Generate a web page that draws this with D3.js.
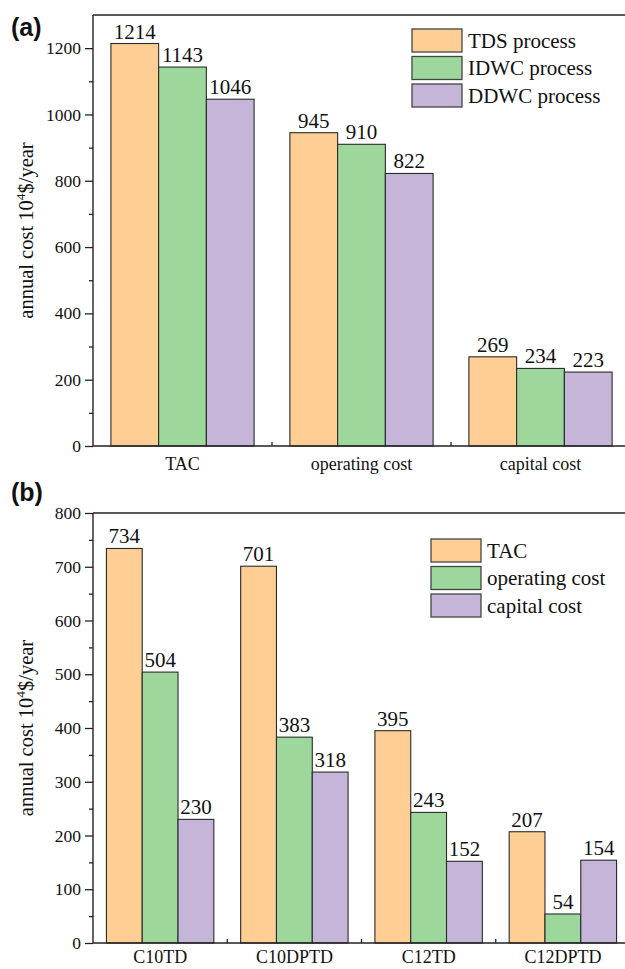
<!DOCTYPE html>
<html><head><meta charset="utf-8">
<script src="https://cdn.jsdelivr.net/npm/d3@7/dist/d3.min.js"></script>
<style>
html,body{margin:0;padding:0;background:#fff;overflow:hidden;}
svg{display:block;}
</style></head>
<body>
<script>
// ---- data ----
const catsA = ["TAC", "operating cost", "capital cost"];
const seriesA = ["TDS process", "IDWC process", "DDWC process"];
const tdsVals = [1214, 945, 269];
const idwcVals = [1143, 910, 234];
const ddwcVals = [1046, 822, 223];

const catsB = ["C10TD", "C10DPTD", "C12TD", "C12DPTD"];
const seriesB = ["TAC", "operating cost", "capital cost"];
const tacVals = [734, 701, 395, 207];
const opVals = [504, 383, 243, 54];
const capVals = [230, 318, 152, 154];

const ticksA = [0, 200, 400, 600, 800, 1000, 1200];
const ticksB = [0, 100, 200, 300, 400, 500, 600, 700, 800];

const colors = ["#FECE94", "#9DD79C", "#C5B5D8"];

const W = 625, H = 969;
const SERIF = "'Liberation Serif','Times New Roman',serif";
const SANS = "'Liberation Sans',Arial,sans-serif";
const svg = d3.select("body").append("svg").attr("width", W).attr("height", H);

function panel(opts) {
  const {cats, series, vals, yMax, ticks, minor, top, bottom, label, labelY, legendX, legendY, xLabelOff} = opts;
  const left = 93, right = 630;
  const g = svg.append("g");
  const x0 = d3.scaleBand().domain(cats).range([left, right]).paddingInner(0.2).paddingOuter(0.1);
  const x1 = d3.scaleBand().domain(series).range([0, x0.bandwidth()]);
  const y = d3.scaleLinear().domain([0, yMax]).range([bottom, top]);
  const color = d3.scaleOrdinal().domain(series).range(colors);

  // bars
  series.forEach((s, si) => {
    const gg = g.append("g");
    const data = cats.map((c, ci) => ({c, v: vals[si][ci]}));
    gg.selectAll("rect").data(data).join("rect")
      .attr("x", d => x0(d.c) + x1(s))
      .attr("y", d => y(d.v))
      .attr("width", x1.bandwidth())
      .attr("height", d => y(0) - y(d.v))
      .attr("fill", color(s))
      .attr("stroke", "#2a2a2a").attr("stroke-width", 1.1);
    gg.selectAll("text").data(data).join("text")
      .attr("x", d => x0(d.c) + x1(s) + x1.bandwidth() / 2)
      .attr("y", d => y(d.v) - 5)
      .attr("text-anchor", "middle")
      .style("font-family", SERIF).style("font-size", "21px").style("fill", "#111")
      .text(d => d.v);
  });

  // y axis
  const yAxis = d3.axisLeft(y).tickValues(ticks).tickSize(8).tickPadding(4).tickFormat(d3.format("d"));
  const ya = g.append("g").attr("transform", `translate(${left},0)`).call(yAxis);
  ya.select(".domain").remove();
  ya.selectAll("line").attr("stroke", "#222").attr("stroke-width", 1.3);
  ya.selectAll("text").style("font-size", "17.5px").style("font-family", SERIF).style("fill", "#111");
  const yMinor = d3.axisLeft(y).tickValues(minor).tickSize(4).tickFormat("");
  const ym = g.append("g").attr("transform", `translate(${left},0)`).call(yMinor);
  ym.select(".domain").remove();
  ym.selectAll("line").attr("stroke", "#222").attr("stroke-width", 1.3);

  // x axis
  const xAxis = d3.axisBottom(x0).tickSize(0).tickPadding(0);
  const xa = g.append("g").attr("transform", `translate(0,${bottom})`).call(xAxis);
  xa.select(".domain").remove();
  xa.selectAll("text").style("font-size", "18px").style("font-family", SERIF).style("fill", "#111")
    .attr("dy", 0).attr("y", xLabelOff);
  // inward ticks between groups
  const seps = cats.slice(1).map(c => x0(c) - x0.step() * x0.paddingInner() / 2);
  g.append("g").selectAll("line").data(seps).join("line")
    .attr("x1", d => d).attr("x2", d => d).attr("y1", bottom).attr("y2", bottom - 4)
    .attr("stroke", "#222").attr("stroke-width", 1.3);

  // frame lines
  g.append("line").attr("x1", left).attr("x2", W + 5).attr("y1", bottom).attr("y2", bottom).attr("stroke", "#222").attr("stroke-width", 1.4);
  g.append("line").attr("x1", left).attr("x2", W + 5).attr("y1", top).attr("y2", top).attr("stroke", "#222").attr("stroke-width", 1.4);
  g.append("line").attr("x1", left).attr("x2", left).attr("y1", top).attr("y2", bottom).attr("stroke", "#222").attr("stroke-width", 1.4);

  // y title
  const t = g.append("text").attr("transform", `translate(33,${(top + bottom) / 2}) rotate(-90)`)
    .attr("text-anchor", "middle")
    .style("font-family", SERIF).style("font-size", "20.5px").style("fill", "#111");
  t.append("tspan").text("annual cost 10");
  t.append("tspan").style("font-size", "13.5px").attr("dy", -8).text("4");
  t.append("tspan").attr("dy", 8).text("$/year");

  // panel label
  g.append("text").attr("x", 11).attr("y", labelY)
    .style("font-family", SANS).style("font-weight", "bold").style("font-size", "25px").style("fill", "#111")
    .text(label);

  // legend
  const lg = g.append("g").attr("transform", `translate(${legendX},${legendY})`);
  series.forEach((s, i) => {
    lg.append("rect").attr("x", 0).attr("y", i * 27.5).attr("width", 50).attr("height", 23)
      .attr("fill", color(s)).attr("stroke", "#444").attr("stroke-width", 1.3);
    lg.append("text").attr("x", 56).attr("y", i * 27.5 + 11.5).attr("dy", "0.35em")
      .style("font-family", SERIF).style("font-size", "21px").style("fill", "#111")
      .text(s);
  });
}

panel({cats: catsA, series: seriesA, vals: [tdsVals, idwcVals, ddwcVals], yMax: 1300,
  ticks: ticksA, minor: [100, 300, 500, 700, 900, 1100], top: 15, bottom: 446,
  label: "(a)", labelY: 36, legendX: 412, legendY: 29, xLabelOff: 24});

panel({cats: catsB, series: seriesB, vals: [tacVals, opVals, capVals], yMax: 800,
  ticks: ticksB, minor: [50, 150, 250, 350, 450, 550, 650, 750], top: 513, bottom: 943,
  label: "(b)", labelY: 501, legendX: 431, legendY: 539, xLabelOff: 20});
</script>
</body></html>
